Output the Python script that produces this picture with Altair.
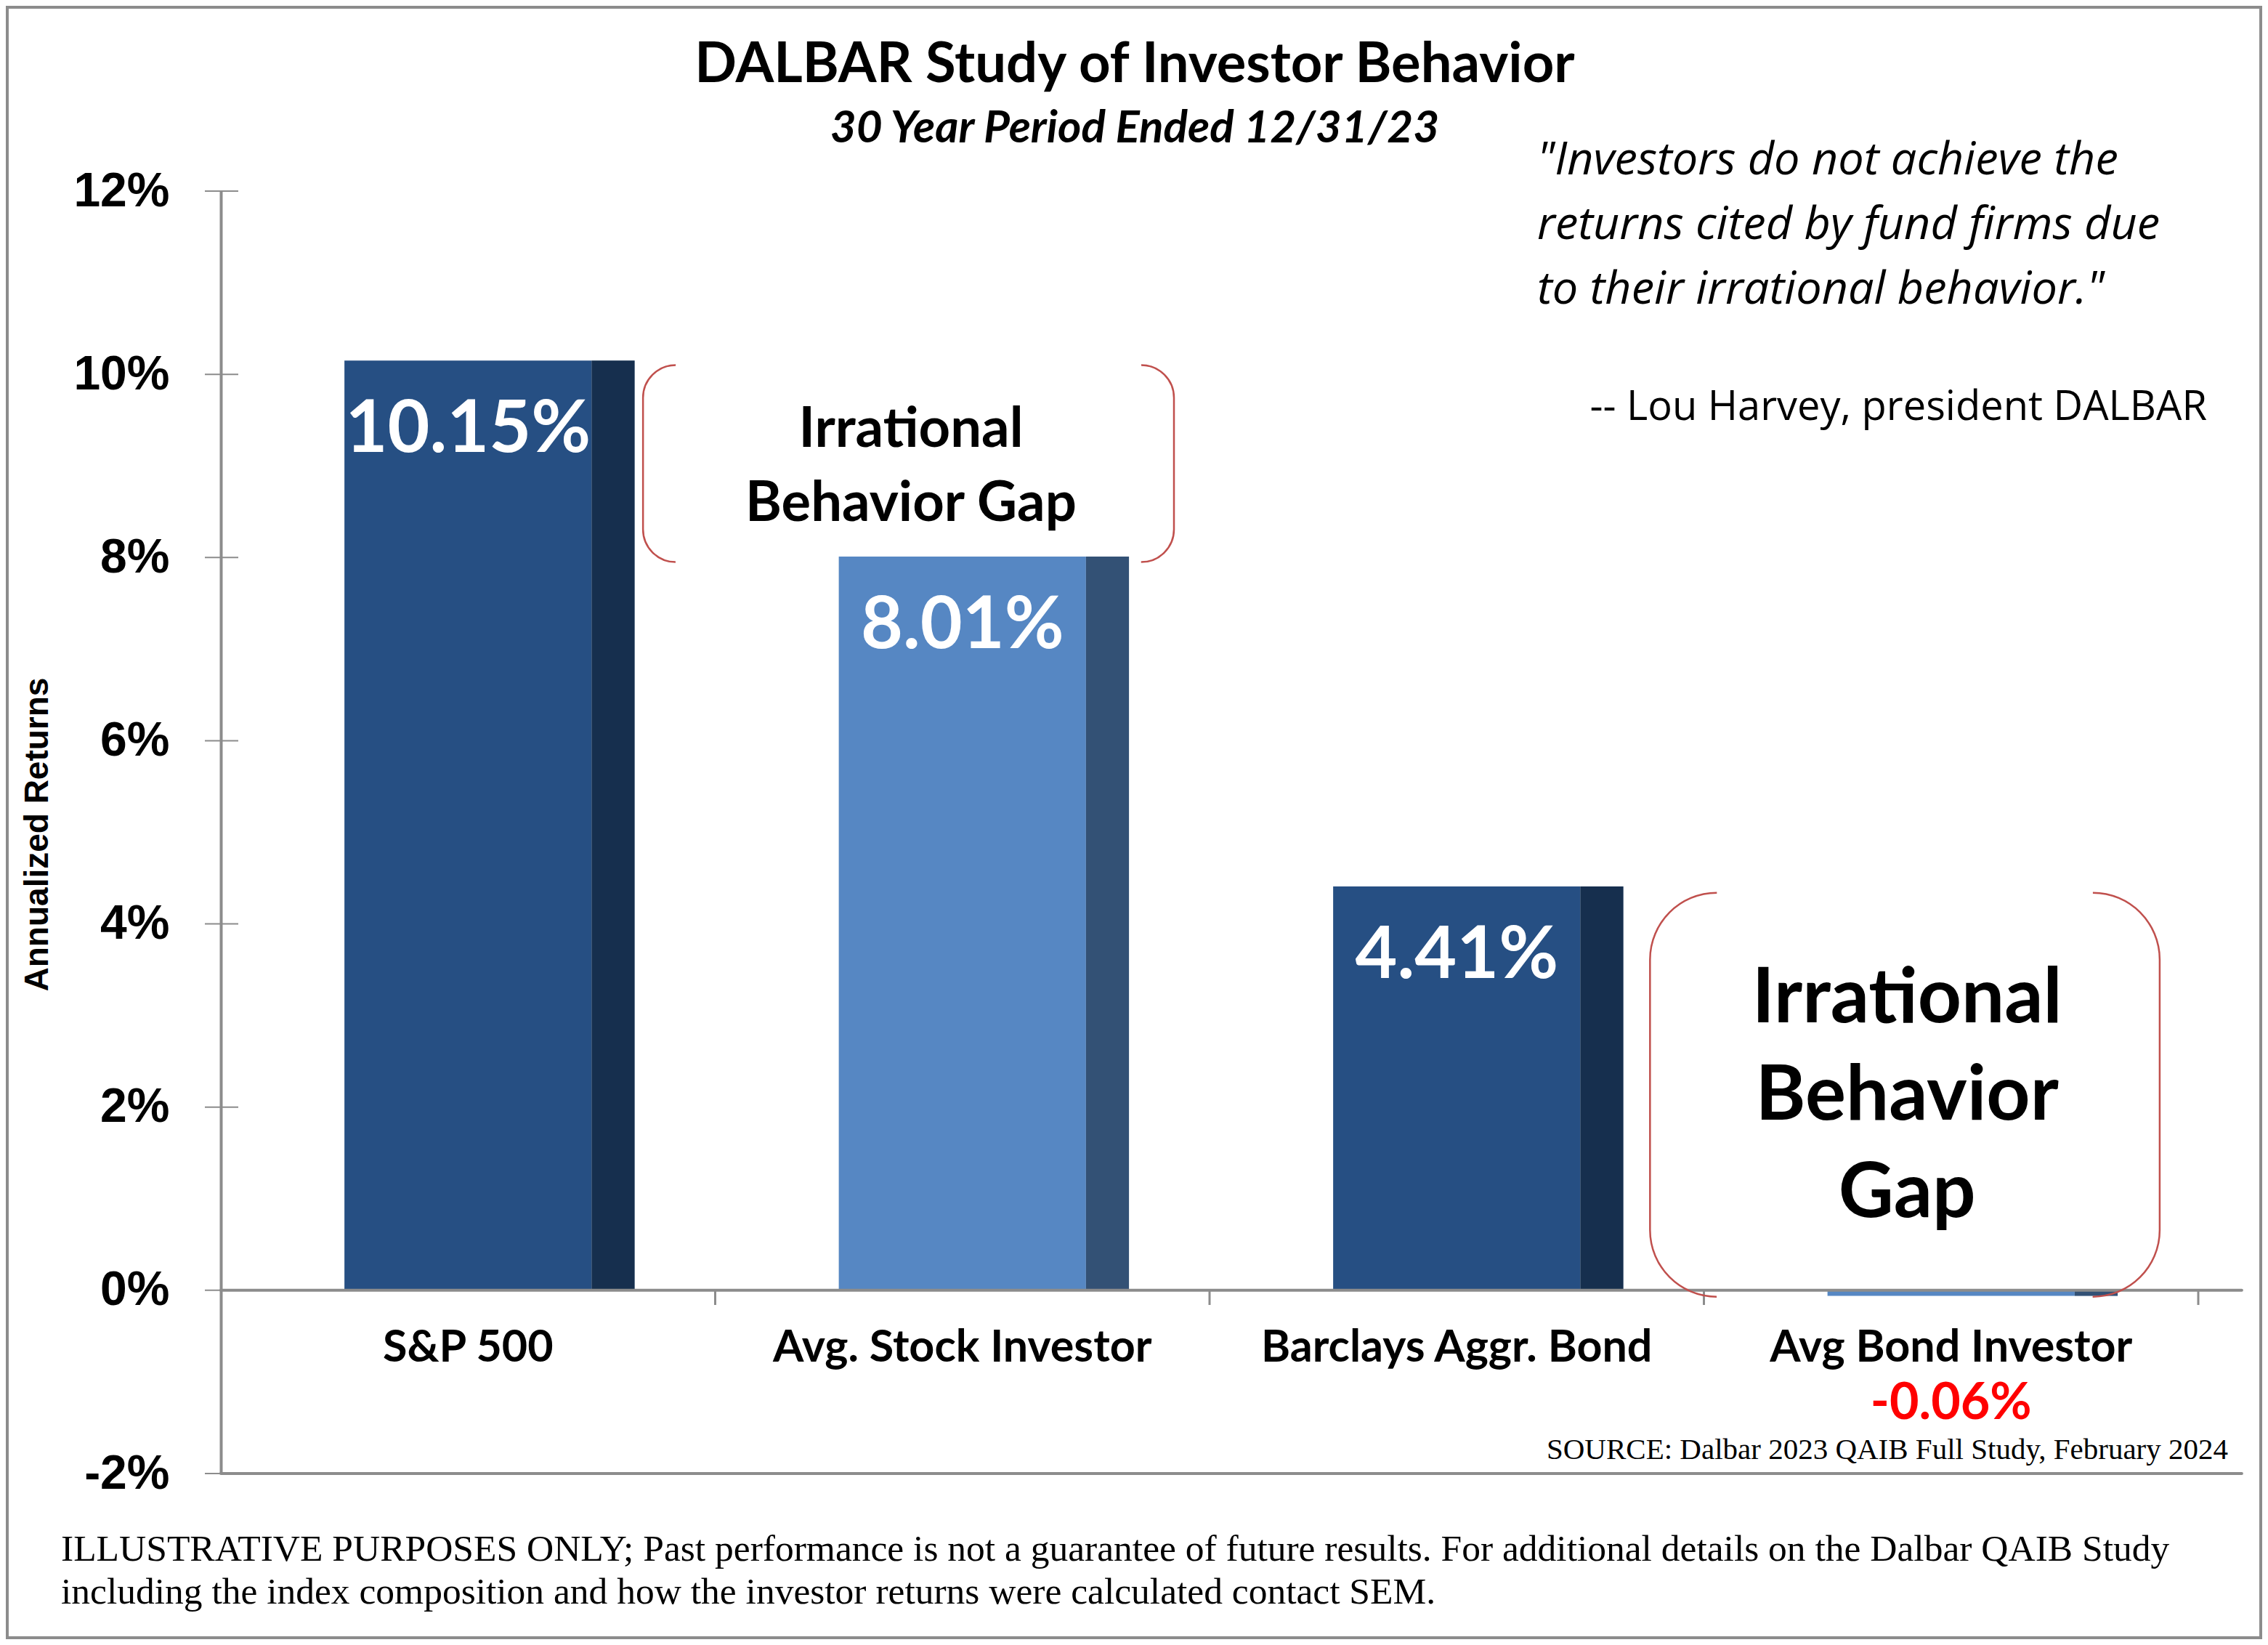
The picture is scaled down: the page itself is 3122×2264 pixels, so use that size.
import math
import altair as alt
import pandas as pd

# ---------------- data ----------------
categories = ["S&P 500", "Avg. Stock Investor", "Barclays Aggr. Bond", "Avg Bond Investor"]
returns = [10.15, 8.01, 4.41, -0.06]
y_ticks = [-2, 0, 2, 4, 6, 8, 10, 12]
band_edges = [1, 2, 3, 4]

title_text = "DALBAR Study of Investor Behavior"
subtitle_text = "30 Year Period Ended 12/31/23"
quote_lines = ['"Investors do not achieve the', 'returns cited by fund firms due', 'to their irrational behavior."']
attribution = "-- Lou Harvey, president DALBAR"
source_text = "SOURCE: Dalbar 2023 QAIB Full Study, February 2024"
footer_lines = [
    "ILLUSTRATIVE PURPOSES ONLY; Past performance is not a guarantee of future results. For additional details on the Dalbar QAIB Study",
    "including the index composition and how the investor returns were calculated contact SEM.",
]

# "Irrational Behavior Gap" call-outs (extent in data units: category slots / percent)
gap_text = [["Irrational", "Behavior Gap"], ["Irrational", "Behavior", "Gap"]]
gap_x0 = [0.854, 2.891]
gap_x1 = [1.928, 3.922]
gap_top = [10.10, 4.34]
gap_bottom = [7.95, -0.07]
gap_text_x = [1.396, 3.411]
gap_text_y = [9.209, 2.927]

# ---------------- styling ----------------
W, H = 2722, 1765
PAD = {"left": 296, "top": 255, "right": 88, "bottom": 228}
X_DOMAIN = [0, 4]
Y_DOMAIN = [-2, 12]
sx = W / (X_DOMAIN[1] - X_DOMAIN[0])
sy = H / (Y_DOMAIN[1] - Y_DOMAIN[0])

front_colors = ["#264F83", "#5687C3", "#264F83", "#5687C3"]
GRAY = "#8c8c8c"
RED_LINE = "#C0504D"
gap_radius = [45, 92]
gap_font = [76, 105]
gap_line_h = [102, 134]

xs = alt.Scale(domain=X_DOMAIN, nice=False, zero=False)
ys = alt.Scale(domain=Y_DOMAIN, nice=False, zero=False)

bars = pd.DataFrame({"name": categories, "value": returns})
bars["pos"] = list(range(len(categories)))
bars["front_start"] = bars["pos"] + 0.25
bars["front_end"] = bars["pos"] + 0.75
bars["side_end"] = bars["pos"] + 0.837
bars["mid"] = bars["pos"] + 0.5
bars["zero"] = 0.0
bars["label"] = [f"{v:.2f}%" for v in returns]

yaxis = alt.Axis(
    values=y_ticks, labelExpr="datum.value + '%'",
    labelFont="Liberation Sans", labelFontWeight="bold", labelFontSize=66,
    labelColor="black", labelPadding=71, ticks=False, tickSize=0,
    domainColor=GRAY, domainWidth=4, grid=False, labelFlush=False, labelOverlap=False,
    title="Annualized Returns", titleFont="Liberation Sans", titleFontSize=46,
    titleFontWeight="bold", titleColor="black", titleAngle=270,
    titleX=-253, titleY=885, titleAlign="center", titleBaseline="middle",
)


def Y(field):
    # every layer carries the same axis definition so the merged axis stays enabled
    return alt.Y(field, type="quantitative", scale=ys, axis=yaxis)


def X(field):
    return alt.X(field, type="quantitative", scale=xs, axis=None)


color_enc = alt.Color("name:N", scale=alt.Scale(domain=categories, range=front_colors), legend=None)

front = alt.Chart(bars).mark_rect().encode(
    x=X("front_start"), x2="front_end", y=Y("value"), y2="zero", color=color_enc,
)
side = alt.Chart(bars).mark_rect().encode(
    x=X("front_end"), x2="side_end", y=Y("value"), y2="zero", color=color_enc,
)
side_shade = alt.Chart(bars).mark_rect(color="black", opacity=0.4).encode(
    x=X("front_end"), x2="side_end", y=Y("value"), y2="zero",
)

ytick_df = pd.DataFrame({"value": y_ticks})
ytick_marks = alt.Chart(ytick_df).mark_rule(color=GRAY, strokeWidth=2).encode(
    y=Y("value"), x=alt.value(-22), x2=alt.value(24)
)

bt_df = pd.DataFrame({"b": band_edges})
bt_df["value"] = 0.0
bt_df["y1"] = -0.16
band_ticks = alt.Chart(bt_df).mark_rule(color=GRAY, strokeWidth=3).encode(
    x=X("b"), y=Y("value"), y2="y1"
)

hl_df = pd.DataFrame({"value": [0, -2]})
hl_df["x0"] = 0.0
hl_df["x1"] = 4.088
hlines = alt.Chart(hl_df).mark_rule(color=GRAY, strokeWidth=4, strokeCap="round").encode(
    y=Y("value"), x=X("x0"), x2="x1"
)

value_labels = alt.Chart(bars).transform_filter("datum.value > 0").mark_text(
    font="Lato", fontWeight="bold", fontSize=100, color="white", align="center", baseline="alphabetic", dy=126
).encode(x=X("mid"), y=Y("value"), text="label:N")

neg_labels = alt.Chart(bars).transform_filter("datum.value < 0").mark_text(
    font="Lato", fontWeight="bold", fontSize=70, color="#FF0000", align="center", baseline="alphabetic", dy=170
).encode(x=X("mid"), y=Y("value"), text="label:N")

cat_labels = alt.Chart(bars).mark_text(
    font="Lato", fontWeight="bold", fontSize=61, color="black", align="center", baseline="alphabetic", dy=98
).encode(x=X("mid"), y=Y("zero"), text="name:N")

gap_layers = []
for i in range(len(gap_text)):
    w = (gap_x1[i] - gap_x0[i]) * sx
    h = (gap_top[i] - gap_bottom[i]) * sy
    r = gap_radius[i]
    on = math.pi * r + h - 2 * r
    off = w - 2 * r
    box_df = pd.DataFrame({"x0": [gap_x0[i]], "x1": [gap_x1[i]], "value": [gap_top[i]], "bottom": [gap_bottom[i]]})
    box = alt.Chart(box_df).mark_rect(
        fill="white", fillOpacity=0, stroke=RED_LINE, strokeWidth=2.5, cornerRadius=r,
        strokeDash=[round(on, 2), round(off, 2)], strokeDashOffset=round(on, 2),
    ).encode(x=X("x0"), x2="x1", y=Y("value"), y2="bottom")
    txt_df = pd.DataFrame({"x": [gap_text_x[i]], "value": [gap_text_y[i]]})
    txt = alt.Chart(txt_df).mark_text(
        text=gap_text[i], font="Lato", fontWeight="bold", fontSize=gap_font[i], lineHeight=gap_line_h[i],
        color="black", align="center", baseline="alphabetic",
    ).encode(x=X("x"), y=Y("value"))
    gap_layers += [box, txt]

one = pd.DataFrame({"k": [0]})


def text_at(text, px, py, **kw):
    return alt.Chart(one).mark_text(text=text, baseline="alphabetic", color="black", **kw).encode(
        x=alt.value(px), y=alt.value(py)
    )


title_l = text_at(title_text, 1258, -150, font="Lato", fontWeight="bold", fontSize=76, align="center")
subtitle_l = text_at(subtitle_text, 1258, -67, font="Lato", fontWeight="bold", fontStyle="italic", fontSize=62, align="center")
quote_l = text_at(quote_lines, 1812, -23, font="Open Sans", fontStyle="italic", fontSize=63, lineHeight=89, align="left")
attr_l = text_at(attribution, 2734, 315, font="Open Sans", fontSize=56, align="right")
source_l = text_at(source_text, 2763, 1745, font="Liberation Serif", fontSize=41, align="right")
footer_l = text_at(footer_lines, -220, 1885, font="Liberation Serif", fontSize=51.5, lineHeight=59, align="left")

border = alt.Chart(one).mark_rect(fill="white", fillOpacity=0, stroke=GRAY, strokeWidth=4).encode(
    x=alt.value(-294), x2=alt.value(W + PAD["right"] - 2),
    y=alt.value(-PAD["top"] + 2), y2=alt.value(H + PAD["bottom"] - 2),
)

chart = alt.layer(
    border, front, side, side_shade, ytick_marks, band_ticks, hlines, value_labels, neg_labels, cat_labels,
    *gap_layers, title_l, subtitle_l, quote_l, attr_l, source_l, footer_l,
).properties(
    width=W, height=H, autosize=alt.AutoSizeParams(type="none"), padding=PAD,
).configure_view(strokeWidth=0)

chart.save("out.html", embed_options={"renderer": "svg", "actions": False})
